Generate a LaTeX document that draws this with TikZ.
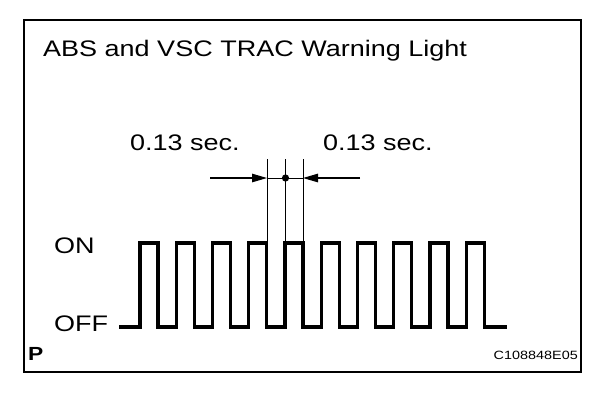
\documentclass[tikz,border=0pt]{standalone}
\usepackage{fontspec}
\setmainfont{Liberation Sans}[FakeStretch=1.2]
\usetikzlibrary{arrows.meta}
\tikzset{
  lbl/.style={inner sep=0pt, anchor=base west, font=\fontsize{22.5}{26}\selectfont},
  wave/.style={line width=3.4pt, line join=miter},
  tickln/.style={line width=0.9pt},
  dimarrow/.style={line width=1.1pt, -{Triangle[length=15pt,width=8.5pt]}},
  frameln/.style={line width=2.6pt}
}
\begin{document}
\begin{tikzpicture}[x=1pt,y=-1pt]
\useasboundingbox (0,0) rectangle (608,400);
\draw[frameln] (24,20) rectangle (581,372);
\node[lbl] (title) at (43,56) {ABS and VSC TRAC Warning Light};
\node[lbl] (secL) at (130,150) {0.13 sec.};
\node[lbl] (secR) at (323,150) {0.13 sec.};
\node[lbl] (on) at (54,253) {ON};
\node[lbl] (off) at (54,331) {OFF};
\node[inner sep=0pt, anchor=base west, font=\fontsize{19}{21}\selectfont\bfseries] (pmark) at (28,360) {P};
\node[inner sep=0pt, anchor=base east, font=\fontsize{12}{14}\selectfont] (code) at (578,359) {C108848E05};
% waveform
\draw[wave] (119,327) -- (140,327)
  \foreach \k in {0,...,9} { -- ++(0,-84) -- ++(18,0) -- ++(0,84) -- ++(18.25,0) }
  -- (507,327);
% ticks
\coordinate (t1top) at (267,159); \coordinate (t1bot) at (267,243);
\coordinate (t2top) at (285.5,159); \coordinate (t2bot) at (285.5,243);
\coordinate (t3top) at (303,159); \coordinate (t3bot) at (303,243);
\draw[tickln] (t1top) -- (t1bot);
\draw[tickln] (t2top) -- (t2bot);
\draw[tickln] (t3top) -- (t3bot);
% dimension
\coordinate (aL) at (210,178); \coordinate (tipL) at (267,178);
\coordinate (aR) at (360,178); \coordinate (tipR) at (303,178);
\coordinate (mid) at (285.5,178);
\draw[tickln] (tipL) -- (tipR);
\draw[dimarrow] (aL) -- (tipL);
\draw[dimarrow] (aR) -- (tipR);
\fill (mid) circle (3.6pt);
\end{tikzpicture}
\end{document}
